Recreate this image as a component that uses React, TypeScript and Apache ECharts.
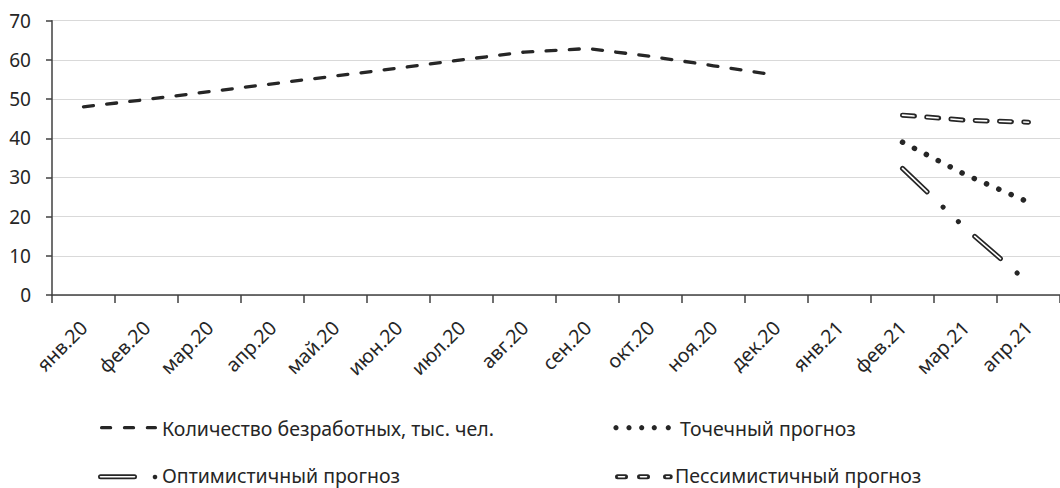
import React, { useEffect, useRef } from "react";
import * as echarts from "echarts";

const months = [
  "янв.20", "фев.20", "мар.20", "апр.20", "май.20", "июн.20", "июл.20", "авг.20",
  "сен.20", "окт.20", "ноя.20", "дек.20", "янв.21", "фев.21", "мар.21", "апр.21",
];
const unemployed = [48.0, 49.9, 51.9, 53.9, 55.9, 57.9, 60.0, 62.0, 62.9, 60.9, 58.5, 56.1, null, null, null, null];
const pointForecast = [null, null, null, null, null, null, null, null, null, null, null, null, null, 39.0, 30.7, 23.7];
const optimistic = [null, null, null, null, null, null, null, null, null, null, null, null, null, 32.3, 17.0, 3.1];
const pessimistic = [null, null, null, null, null, null, null, null, null, null, null, null, null, 45.9, 44.6, 44.1];
const yTicks = { min: 0, max: 70, interval: 10 };
const seriesNames = [
  "Количество безработных, тыс. чел.",
  "Точечный прогноз",
  "Оптимистичный прогноз",
  "Пессимистичный прогноз",
];

const FONT = '"Noto Sans", sans-serif';
const DARK = "#262626";
const AXIS = "#404040";

export default function App() {
  const ref = useRef<HTMLDivElement>(null);
  useEffect(() => {
    if (!ref.current) return;
    const chart = echarts.init(ref.current, null, { renderer: "svg" });
    const lineBase = {
      type: "line",
      symbol: "none",
      showSymbol: false,
      connectNulls: false,
      silent: true,
    };
    const legendFont = `19.5px ${FONT}`;
    const axisFont = `19.5px ${FONT}`;
    const legendText = (text: string, x: number, y: number) => ({
      type: "text",
      silent: true,
      style: { text, x, y, font: legendFont, fill: DARK, verticalAlign: "middle", align: "left" },
    });
    const gLine = (x1: number, x2: number, y: number, stroke: string, lineWidth: number, lineDash?: number[]) => ({
      type: "line",
      silent: true,
      shape: { x1, y1: y, x2, y2: y },
      style: { stroke, lineWidth, lineCap: "round", lineDash: lineDash || null },
    });
    const dot = (cx: number, cy: number, r: number) => ({
      type: "circle",
      silent: true,
      shape: { cx, cy, r },
      style: { fill: DARK },
    });

    chart.setOption({
      animation: false,
      backgroundColor: "#ffffff",
      grid: { left: 52, top: 20.7, right: -5, bottom: 193, containLabel: false },
      xAxis: {
        type: "category",
        data: months,
        boundaryGap: true,
        axisLine: { show: true, lineStyle: { color: AXIS, width: 1.5 } },
        axisTick: { show: true, length: 8, interval: 0, lineStyle: { color: AXIS, width: 1.5 } },
        axisLabel: { show: false },
        splitLine: { show: false },
      },
      yAxis: {
        type: "value",
        min: yTicks.min,
        max: yTicks.max,
        interval: yTicks.interval,
        axisLine: { show: true, lineStyle: { color: AXIS, width: 1.5 } },
        axisTick: { show: true, length: 6, lineStyle: { color: AXIS, width: 1.5 } },
        axisLabel: { margin: 21, fontSize: 19, fontFamily: FONT, color: DARK },
        splitLine: { show: true, lineStyle: { color: "#d9d9d9", width: 1 } },
      },
      series: [
        {
          ...lineBase,
          name: seriesNames[0],
          data: unemployed,
          lineStyle: { color: DARK, width: 3.3, type: [10, 13.3], cap: "round" },
          z: 2,
        },
        {
          ...lineBase,
          name: seriesNames[1],
          data: pointForecast,
          lineStyle: { color: DARK, width: 5.5, type: [0.1, 13.3], cap: "round" },
          z: 2,
        },
        {
          ...lineBase,
          name: seriesNames[2],
          data: optimistic,
          lineStyle: { color: DARK, width: 5, type: [34, 22, 0.1, 21, 0.1, 22], cap: "round" },
          z: 2,
        },
        {
          ...lineBase,
          name: seriesNames[2] + " ",
          data: optimistic,
          lineStyle: { color: "#ffffff", width: 1.6, type: [34, 65.2], cap: "round" },
          z: 3,
        },
        {
          ...lineBase,
          name: seriesNames[3],
          data: pessimistic,
          lineStyle: { color: DARK, width: 5, type: [12, 12.3], cap: "round" },
          z: 2,
        },
        {
          ...lineBase,
          name: seriesNames[3] + " ",
          data: pessimistic,
          lineStyle: { color: "#ffffff", width: 1.6, type: [11.5, 12.8], cap: "round", dashOffset: -0.25 },
          z: 3,
        },
      ],
    });

    // x-axis labels rotated 45°, placed at the category positions given by the axis scale
    const axisY = chart.convertToPixel({ yAxisIndex: 0 }, 0) as number;
    const xLabels = months.map((m) => {
      const px = chart.convertToPixel({ xAxisIndex: 0 }, m) as number;
      return {
        type: "text",
        silent: true,
        x: px,
        y: axisY + 29,
        rotation: Math.PI / 4,
        style: { text: m, x: 0, y: 0, font: axisFont, fill: DARK, align: "right", verticalAlign: "middle" },
      };
    });

    const legend = [
      // row 1, left: unemployed
      gLine(101.6, 155.4, 427.7, DARK, 3.3, [9, 13.9]),
      legendText(seriesNames[0], 162, 428),
      // row 1, right: point forecast
      dot(616, 427.7, 2.6),
      dot(629, 427.7, 2.6),
      dot(641.7, 427.7, 2.6),
      dot(654.3, 427.7, 2.6),
      dot(668.3, 427.7, 2.6),
      legendText(seriesNames[1], 680, 428),
      // row 2, left: optimistic
      gLine(100.5, 134.5, 476.7, DARK, 5),
      gLine(100.5, 134.5, 476.7, "#ffffff", 1.6),
      dot(155, 477, 2.3),
      legendText(seriesNames[2], 162, 475),
      // row 2, right: pessimistic
      gLine(617.5, 625.5, 476.7, DARK, 5),
      gLine(618.5, 624.5, 476.7, "#ffffff", 1.6),
      gLine(639.5, 647.5, 476.7, DARK, 5),
      gLine(640.5, 646.5, 476.7, "#ffffff", 1.6),
      gLine(665.5, 670.2, 476.7, DARK, 5),
      gLine(666.5, 669.2, 476.7, "#ffffff", 1.6),
      legendText(seriesNames[3], 675, 475),
    ];

    chart.setOption({ graphic: [...xLabels, ...legend] });
    return () => chart.dispose();
  }, []);
  return (
    <div
      ref={ref}
      style={{ position: "fixed", left: 0, top: 0, width: 1060, height: 488, background: "#fff" }}
    />
  );
}
